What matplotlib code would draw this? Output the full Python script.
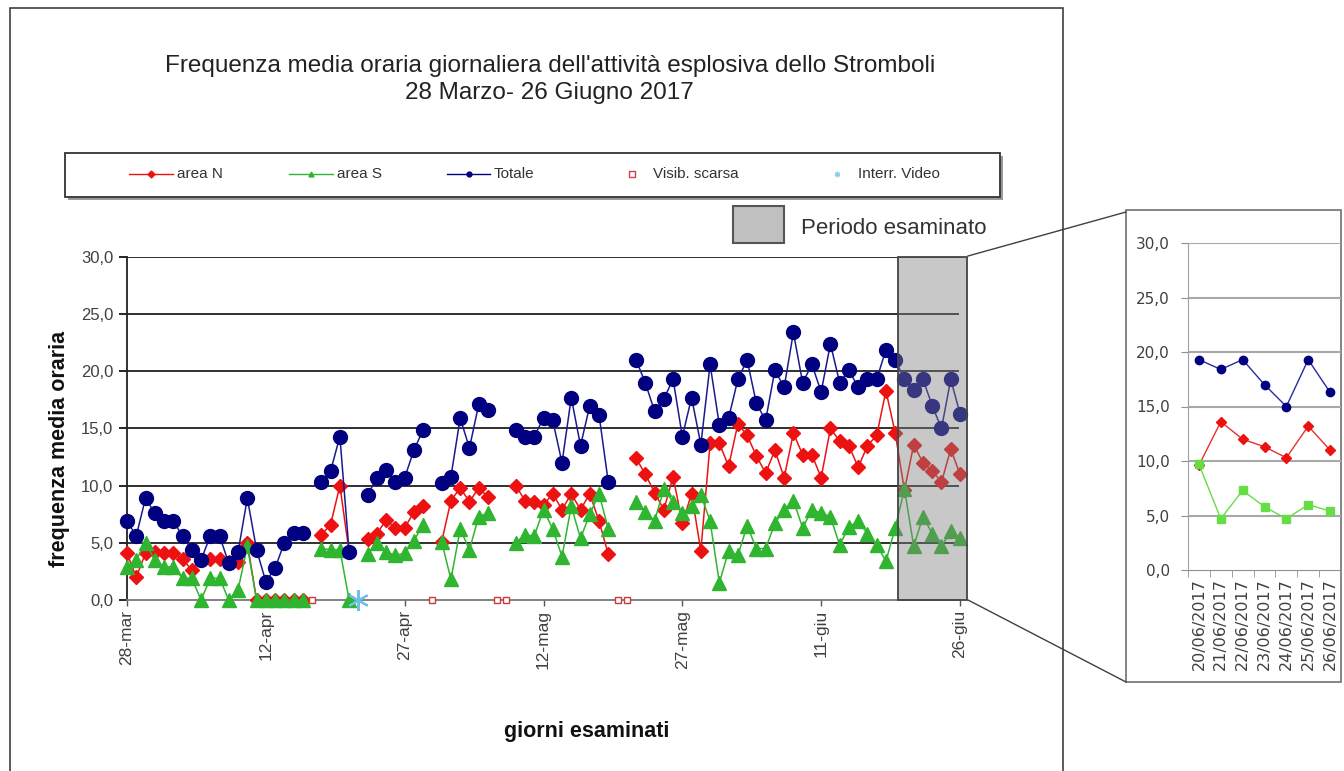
import matplotlib
matplotlib.use('Agg')
import matplotlib.pyplot as plt
import numpy as np
from matplotlib.patches import Rectangle
from matplotlib.lines import Line2D

plt.rcParams['font.family'] = ['Liberation Sans', 'DejaVu Sans']

W, H = 1344, 771

def fx(px):
    return px / W

def fy(py):
    return 1 - py / H

# --- data: one value per day, 28 Mar (day 0) .. 26 Jun (day 90); None = no data
tick_days = [0, 15, 30, 45, 60, 75, 90]
tick_labels = ['28-mar', '12-apr', '27-apr', '12-mag', '27-mag', '11-giu', '26-giu']

area_n = [4.1, 2.0, 4.1, 4.2, 4.1, 4.1, 3.6, 2.6, 3.5, 3.6,
          3.6, 3.3, 3.3, 5.0, 0, 0, 0, 0, 0, 0,
          None, 5.7, 6.6, 10.0, 4.2, None, 5.3, 5.8, 7.0, 6.3,
          6.3, 7.7, 8.2, None, 5.1, 8.7, 9.8, 8.6, 9.8, 9.0,
          None, None, 10.0, 8.7, 8.6, 8.3, 9.3, 7.9, 9.3, 7.9,
          9.3, 6.9, 4.0, None, None, 12.4, 11.0, 9.4, 7.9, 10.8,
          6.7, 9.3, 4.3, 13.7, 13.7, 11.7, 15.4, 14.4, 12.6, 11.1,
          13.1, 10.7, 14.6, 12.7, 12.7, 10.7, 15.0, 13.9, 13.5, 11.6,
          13.5, 14.4, 18.3, 14.6, 9.6, 13.6, 12.0, 11.3, 10.3, 13.2,
          11.0]

area_s = [2.9, 3.5, 5.0, 3.5, 2.9, 2.9, 1.9, 1.9, 0, 1.9,
          1.9, 0, 0.9, 4.7, 0, 0, 0, 0, 0, 0,
          None, 4.5, 4.4, 4.4, 0, None, 4.0, 5.0, 4.2, 3.9,
          4.1, 5.2, 6.6, None, 5.1, 1.8, 6.2, 4.4, 7.3, 7.6,
          None, None, 5.0, 5.7, 5.6, 7.9, 6.2, 3.8, 8.2, 5.4,
          7.5, 9.3, 6.2, None, None, 8.6, 7.7, 6.9, 9.7, 8.6,
          7.6, 8.2, 9.2, 6.9, 1.5, 4.3, 3.9, 6.5, 4.5, 4.5,
          6.7, 7.9, 8.7, 6.3, 7.9, 7.6, 7.3, 4.8, 6.4, 6.9,
          5.8, 4.8, 3.4, 6.3, 9.7, 4.7, 7.3, 5.8, 4.7, 6.0,
          5.4]

totale = [6.9, 5.6, 8.9, 7.6, 6.9, 6.9, 5.6, 4.4, 3.5, 5.6,
          5.6, 3.2, 4.2, 8.9, 4.4, 1.6, 2.8, 5.0, 5.9, 5.9,
          None, 10.3, 11.3, 14.3, 4.2, None, 9.2, 10.7, 11.4, 10.3,
          10.7, 13.1, 14.9, None, 10.2, 10.8, 15.9, 13.3, 17.1, 16.6,
          None, None, 14.9, 14.3, 14.3, 15.9, 15.7, 12.0, 17.7, 13.5,
          17.0, 16.2, 10.3, None, None, 21.0, 19.0, 16.5, 17.6, 19.3,
          14.3, 17.7, 13.6, 20.6, 15.3, 15.9, 19.3, 21.0, 17.2, 15.7,
          20.1, 18.6, 23.4, 19.0, 20.6, 18.2, 22.4, 19.0, 20.1, 18.6,
          19.3, 19.3, 21.9, 21.0, 19.3, 18.4, 19.3, 17.0, 15.0, 19.3,
          16.3]

visib_scarsa = [20, 33, 40, 41, 53, 54]
interr_video = [25]
periodo = [84, 90]

inset_date = ['20/06/2017', '21/06/2017', '22/06/2017', '23/06/2017',
              '24/06/2017', '25/06/2017', '26/06/2017']
inset_n = [9.6, 13.6, 12.0, 11.3, 10.3, 13.2, 11.0]
inset_s = [9.7, 4.7, 7.3, 5.8, 4.7, 6.0, 5.4]
inset_tot = [19.3, 18.4, 19.3, 17.0, 15.0, 19.3, 16.3]

RED = '#ee1111'
GREEN = '#2fb52f'
NAVY = '#000080'


def arr(v):
    return np.array([np.nan if x is None else x for x in v], dtype=float)


fig = plt.figure(figsize=(W / 100, H / 100), dpi=100)

# outer chart frame
fig.add_artist(Rectangle((fx(10), fy(800)), fx(1063) - fx(10), fy(8) - fy(800),
                         transform=fig.transFigure, fill=False,
                         edgecolor='#404040', lw=1.2, clip_on=False, zorder=-5))

# title
fig.text(fx(550), fy(66), "Frequenza media oraria giornaliera dell'attività esplosiva dello Stromboli",
         ha='center', va='center', fontsize=17.5, color='#222222')
fig.text(fx(549), fy(93), '28 Marzo- 26 Giugno 2017',
         ha='center', va='center', fontsize=17.5, color='#222222')

# legend box (drawn by hand, Excel style)
fig.add_artist(Rectangle((fx(68), fy(200)), fx(1003) - fx(68), fy(156) - fy(200),
                         transform=fig.transFigure, facecolor='#9a9a9a',
                         edgecolor='none'))
fig.add_artist(Rectangle((fx(65), fy(197)), fx(1000) - fx(65), fy(153) - fy(197),
                         transform=fig.transFigure, facecolor='white',
                         edgecolor='#333333', lw=1.3))
ly = fy(174)
for x0, x1, col, mk, lab in [(129, 173, RED, 'D', 'area N'),
                             (289, 333, GREEN, '^', 'area S'),
                             (447, 490, NAVY, 'o', 'Totale')]:
    fig.add_artist(Line2D([fx(x0), fx(x1)], [ly, ly], transform=fig.transFigure,
                          color=col, lw=1))
    fig.add_artist(Line2D([fx((x0 + x1) / 2)], [ly], transform=fig.transFigure,
                          color=col, marker=mk, ms=3.5, lw=0))
    fig.text(fx(x1 + 4), ly, lab, ha='left', va='center', fontsize=11, color='#333333')
fig.add_artist(Line2D([fx(632)], [ly], transform=fig.transFigure, marker='s', ms=4,
                      mfc='white', mec='#d04050', lw=0))
fig.text(fx(653), ly, 'Visib. scarsa', ha='left', va='center', fontsize=11, color='#333333')
fig.add_artist(Line2D([fx(837)], [ly], transform=fig.transFigure, marker=(6, 2, 0), ms=4,
                      mec='#88ccee', lw=0))
fig.text(fx(858), ly, 'Interr. Video', ha='left', va='center', fontsize=11, color='#333333')

# "Periodo esaminato" key
fig.add_artist(Rectangle((fx(733), fy(243)), fx(784) - fx(733), fy(206) - fy(243),
                         transform=fig.transFigure, facecolor='#c0c0c0',
                         edgecolor='#555555', lw=1.5))
fig.text(fx(801), fy(229), 'Periodo esaminato', ha='left', va='center',
         fontsize=16, color='#333333')

# main axes
ax = fig.add_axes([fx(127), fy(600), fx(960) - fx(127), fy(257) - fy(600)])
days = np.arange(len(totale))
ax.plot(days, arr(area_n), color=RED, lw=1.1, marker='D', ms=7, clip_on=False, zorder=3)
ax.plot(days, arr(area_s), color=GREEN, lw=1.1, marker='^', ms=10, clip_on=False, zorder=4)
ax.plot(days, arr(totale), color='#1a1a90', lw=1.1, marker='o', ms=10, mfc=NAVY,
        mec=NAVY, clip_on=False, zorder=5)
ax.plot(visib_scarsa, np.zeros(len(visib_scarsa)), lw=0, marker='s', ms=5,
        mfc='white', mec='#c83c3c', mew=1, clip_on=False, zorder=6)
ax.plot(interr_video, np.zeros(len(interr_video)), lw=0, marker=(6, 2, 0), ms=15,
        mec='#6cc0ea', mew=1.5, clip_on=False, zorder=6)

ax.set_xlim(0, 90)
ax.set_ylim(0, 30)
yt = np.arange(0, 31, 5)
ax.set_yticks(yt)
ax.set_yticklabels([f'{v:.1f}'.replace('.', ',') for v in yt])
ax.set_xticks(tick_days)
ax.set_xticklabels(tick_labels, rotation=90)
for v in yt[1:]:
    ax.axhline(v, color='#303030', lw=1.4, zorder=1, xmax=0.998)
ax.spines['top'].set_visible(False)
ax.spines['right'].set_visible(False)
ax.spines['left'].set_color('#222222')
ax.spines['left'].set_linewidth(1.3)
ax.spines['bottom'].set_color('#777777')
ax.spines['bottom'].set_linewidth(1.3)
ax.tick_params(axis='y', direction='out', length=6, width=1.2, pad=4,
               labelsize=12, labelcolor='#404040')
ax.tick_params(axis='x', direction='out', length=4, width=1, pad=3,
               labelsize=12.5, labelcolor='#404040', color='#555555')

# shaded "periodo esaminato"
ax.add_patch(Rectangle((periodo[0] - 0.7, 0), periodo[1] - periodo[0] + 1.5, 30,
                       facecolor='#808080', alpha=0.43, edgecolor='none',
                       clip_on=False, zorder=8))
ax.add_patch(Rectangle((periodo[0] - 0.7, 0), periodo[1] - periodo[0] + 1.5, 30,
                       fill=False, edgecolor='#444444', lw=1.3,
                       clip_on=False, zorder=9))

fig.text(fx(60), fy(449), 'frequenza media oraria', rotation=90, ha='center',
         va='center', fontsize=15.5, fontweight='bold', color='#111111')
fig.text(fx(587), fy(731), 'giorni esaminati', ha='center', va='center',
         fontsize=15.5, fontweight='bold', color='#111111')

# zoom connector lines
fig.add_artist(Line2D([fx(968), fx(1126)], [fy(256), fy(212)],
                      transform=fig.transFigure, color='#404040', lw=1))
fig.add_artist(Line2D([fx(968), fx(1126)], [fy(600), fy(682)],
                      transform=fig.transFigure, color='#404040', lw=1))

# inset frame and axes
fig.add_artist(Rectangle((fx(1126), fy(682)), fx(1341) - fx(1126), fy(210) - fy(682),
                         transform=fig.transFigure, facecolor='white',
                         edgecolor='#707070', lw=1.2, zorder=-1))
ax2 = fig.add_axes([fx(1188), fy(570), fx(1341) - fx(1188), fy(243) - fy(570)])
ax2.set_zorder(5)
ax2.patch.set_alpha(0)
ix = np.arange(len(inset_date))
for v in yt[1:]:
    ax2.axhline(v, color='#a8a8a8', lw=1.5, zorder=1)
ax2.plot(ix, inset_tot, color='#2a2aa0', lw=1, marker='o', ms=6, mfc=NAVY, mec=NAVY, zorder=3)
ax2.plot(ix, inset_n, color='#e83030', lw=1, marker='D', ms=5.5, mfc=RED, mec=RED, zorder=3)
ax2.plot(ix, inset_s, color='#66dd44', lw=1, marker='s', ms=5.5, mfc='#66dd44',
         mec='#66dd44', zorder=4)
ax2.set_xlim(-0.5, 6.5)
ax2.set_ylim(0, 30)
ax2.set_yticks(yt)
ax2.set_yticklabels([f'{v:.1f}'.replace('.', ',') for v in yt],
                    fontfamily='DejaVu Sans')
ax2.set_xticks(ix)
ax2.set_xticklabels(inset_date, rotation=90, fontfamily='DejaVu Sans')
ax2.set_xticks(np.arange(-0.5, 7, 1), minor=True)
ax2.tick_params(axis='x', which='major', length=0, pad=6, labelsize=11.5,
                labelcolor='#404040')
ax2.tick_params(axis='x', which='minor', length=5, color='#909090', direction='out')
ax2.tick_params(axis='y', length=5, color='#909090', pad=8, labelsize=11,
                labelcolor='#404040')
ax2.spines['top'].set_visible(False)
ax2.spines['right'].set_visible(False)
ax2.spines['left'].set_color('#a0a0a0')
ax2.spines['bottom'].set_color('#909090')

fig.savefig('out.png', dpi=100)
